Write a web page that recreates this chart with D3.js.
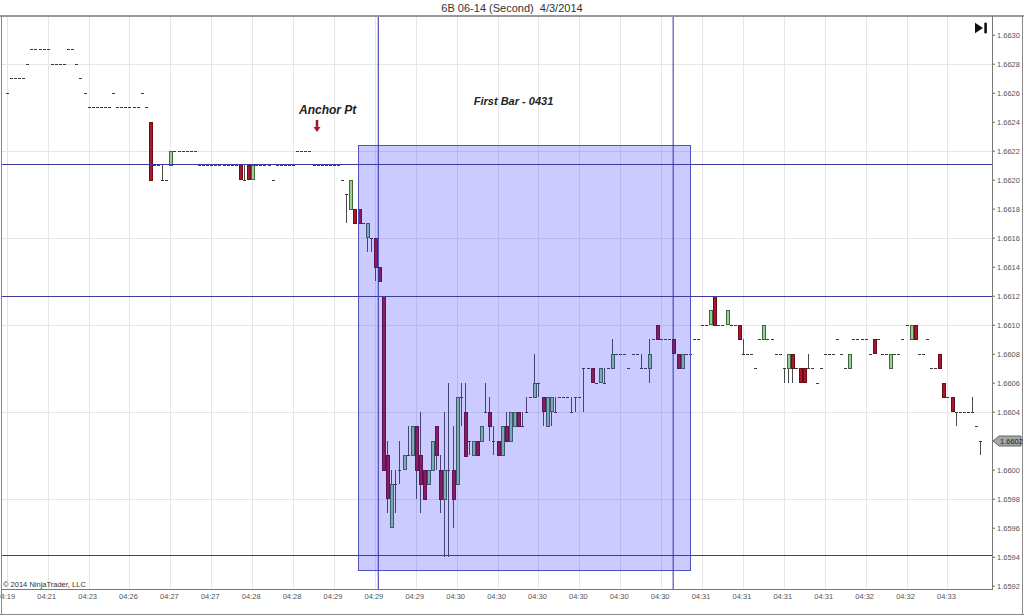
<!DOCTYPE html>
<html><head><meta charset="utf-8">
<script src="https://cdn.jsdelivr.net/npm/d3@7"></script>
<style>body{margin:0;background:#fff}svg{display:block}text{font-family:"Liberation Sans",Arial,sans-serif}</style>
</head><body><svg id="c" width="1024" height="616"></svg>
<script>
// ---- DATA (bars of 1 second, index 0..238) ----
const open = [
1.6626,1.6627,1.6627,1.6627,1.6627,1.6628,1.6629,1.6629,1.6629,1.6629,
1.6629,1.6628,1.6628,1.6628,1.6628,1.6629,1.6629,1.6628,1.6627,1.6626,
1.6625,1.6625,1.6625,1.6625,1.6625,1.6625,1.6626,1.6625,1.6625,1.6625,
1.6625,1.6625,1.6625,1.6626,1.6625,1.6624,1.6621,1.6621,1.6620,1.6620,
1.6621,1.6622,1.6622,1.6622,1.6622,1.6622,1.6622,1.6621,1.6621,1.6621,
1.6621,1.6621,1.6621,1.6621,1.6621,1.6621,1.6621,1.6621,1.6620,1.6621,
1.6620,1.6621,1.6621,1.6621,1.6621,1.6620,1.6621,1.6621,1.6621,1.6621,
1.6621,1.6622,1.6622,1.6622,1.6622,1.6621,1.6621,1.6621,1.6621,1.6621,
1.6621,1.6621,1.6620,1.6619,1.6618,1.6618,1.6618,1.6617,1.6616,1.6616,
1.6616,1.6614,1.6612,1.6601,1.6596,1.6599,1.6600,1.6600,1.6601,1.6601,
1.6603,1.6601,1.6600,1.6599,1.6600,1.6603,1.6600,1.6598,1.6600,1.6600,
1.6599,1.6605,1.6604,1.6602,1.6601,1.6602,1.6602,1.6604,1.6604,1.6602,
1.6602,1.6601,1.6603,1.6602,1.6603,1.6604,1.6603,1.6604,1.6605,1.6605,
1.6606,1.6605,1.6603,1.6604,1.6604,1.6605,1.6605,1.6605,1.6604,1.6605,
1.6605,1.6607,1.6607,1.6607,1.6606,1.6606,1.6606,1.6607,1.6607,1.6608,
1.6608,1.6608,1.6607,1.6608,1.6608,1.6607,1.6607,1.6607,1.6609,1.6610,
1.6609,1.6609,1.6609,1.6609,1.6608,1.6607,1.6608,1.6608,1.6609,1.6609,
1.6610,1.6610,1.6610,1.6612,1.6610,1.6610,1.6610,1.6610,1.6610,1.6610,
1.6608,1.6608,1.6608,1.6607,1.6609,1.6609,1.6609,1.6609,1.6608,1.6608,
1.6607,1.6607,1.6608,1.6607,1.6607,1.6607,1.6607,1.6607,1.6606,1.6607,
1.6608,1.6608,1.6608,1.6609,1.6608,1.6607,1.6607,1.6609,1.6609,1.6609,
1.6609,1.6608,1.6609,1.6609,1.6608,1.6608,1.6607,1.6608,1.6608,1.6609,
1.6610,1.6609,1.6610,1.6608,1.6608,1.6609,1.6607,1.6607,1.6608,1.6606,
1.6605,1.6605,1.6604,1.6604,1.6604,1.6604,1.6604,1.6603,1.6602];
const high = [
1.6626,1.6627,1.6627,1.6627,1.6627,1.6628,1.6629,1.6629,1.6629,1.6629,
1.6629,1.6628,1.6628,1.6628,1.6628,1.6629,1.6629,1.6628,1.6627,1.6626,
1.6625,1.6625,1.6625,1.6625,1.6625,1.6625,1.6626,1.6625,1.6625,1.6625,
1.6625,1.6625,1.6625,1.6626,1.6625,1.6624,1.6621,1.6621,1.6621,1.6620,
1.6622,1.6622,1.6622,1.6622,1.6622,1.6622,1.6622,1.6621,1.6621,1.6621,
1.6621,1.6621,1.6621,1.6621,1.6621,1.6621,1.6621,1.6621,1.6621,1.6621,
1.6621,1.6621,1.6621,1.6621,1.6621,1.6620,1.6621,1.6621,1.6621,1.6621,
1.6621,1.6622,1.6622,1.6622,1.6622,1.6621,1.6621,1.6621,1.6621,1.6621,
1.6621,1.6621,1.6620,1.6619,1.6620,1.6618,1.6618,1.6617,1.6617,1.6616,
1.6616,1.6614,1.6612,1.6602,1.6600,1.6600,1.6602,1.6601,1.6603,1.6603,
1.6603,1.6604,1.6600,1.6600,1.6602,1.6603,1.6601,1.6604,1.6606,1.6603,
1.6605,1.6606,1.6606,1.6602,1.6602,1.6602,1.6603,1.6606,1.6605,1.6603,
1.6602,1.6603,1.6604,1.6604,1.6604,1.6604,1.6604,1.6605,1.6605,1.6608,
1.6606,1.6605,1.6605,1.6605,1.6605,1.6605,1.6605,1.6605,1.6605,1.6605,
1.6605,1.6607,1.6607,1.6607,1.6606,1.6607,1.6607,1.6607,1.6609,1.6608,
1.6608,1.6608,1.6607,1.6608,1.6608,1.6608,1.6607,1.6609,1.6609,1.6610,
1.6609,1.6609,1.6609,1.6609,1.6608,1.6608,1.6608,1.6608,1.6609,1.6609,
1.6610,1.6610,1.6611,1.6612,1.6610,1.6610,1.6611,1.6610,1.6610,1.6610,
1.6609,1.6608,1.6608,1.6607,1.6609,1.6610,1.6609,1.6609,1.6608,1.6608,
1.6607,1.6608,1.6608,1.6607,1.6607,1.6607,1.6608,1.6607,1.6606,1.6607,
1.6608,1.6608,1.6608,1.6609,1.6608,1.6607,1.6608,1.6609,1.6609,1.6609,
1.6609,1.6608,1.6609,1.6609,1.6608,1.6608,1.6608,1.6608,1.6608,1.6609,
1.6610,1.6610,1.6610,1.6608,1.6608,1.6609,1.6607,1.6607,1.6608,1.6606,
1.6605,1.6605,1.6604,1.6604,1.6604,1.6604,1.6605,1.6603,1.6602];
const low = [
1.6626,1.6627,1.6627,1.6627,1.6627,1.6628,1.6629,1.6629,1.6629,1.6629,
1.6629,1.6628,1.6628,1.6628,1.6628,1.6629,1.6629,1.6628,1.6627,1.6626,
1.6625,1.6625,1.6625,1.6625,1.6625,1.6625,1.6626,1.6625,1.6625,1.6625,
1.6625,1.6625,1.6625,1.6626,1.6625,1.6620,1.6621,1.6621,1.6620,1.6620,
1.6621,1.6622,1.6622,1.6622,1.6622,1.6622,1.6622,1.6621,1.6621,1.6621,
1.6621,1.6621,1.6621,1.6621,1.6621,1.6621,1.6621,1.6620,1.6620,1.6620,
1.6620,1.6621,1.6621,1.6621,1.6621,1.6620,1.6621,1.6621,1.6621,1.6621,
1.6621,1.6622,1.6622,1.6622,1.6622,1.6621,1.6621,1.6621,1.6621,1.6621,
1.6621,1.6621,1.6620,1.6617,1.6618,1.6617,1.6617,1.6617,1.6615,1.6615,
1.6613,1.6613,1.6600,1.6597,1.6596,1.6597,1.6599,1.6600,1.6601,1.6601,
1.6598,1.6597,1.6598,1.6599,1.6600,1.6600,1.6597,1.6594,1.6594,1.6596,
1.6599,1.6603,1.6601,1.6601,1.6601,1.6601,1.6602,1.6604,1.6602,1.6601,
1.6601,1.6601,1.6602,1.6602,1.6603,1.6603,1.6603,1.6604,1.6605,1.6605,
1.6605,1.6603,1.6603,1.6603,1.6604,1.6605,1.6605,1.6605,1.6604,1.6604,
1.6605,1.6604,1.6607,1.6606,1.6606,1.6606,1.6606,1.6607,1.6607,1.6608,
1.6608,1.6608,1.6607,1.6608,1.6608,1.6607,1.6607,1.6606,1.6609,1.6609,
1.6609,1.6609,1.6609,1.6608,1.6607,1.6607,1.6608,1.6608,1.6609,1.6609,
1.6610,1.6610,1.6610,1.6610,1.6610,1.6610,1.6610,1.6610,1.6610,1.6609,
1.6608,1.6608,1.6608,1.6607,1.6609,1.6609,1.6609,1.6609,1.6608,1.6608,
1.6606,1.6606,1.6606,1.6607,1.6606,1.6606,1.6607,1.6607,1.6606,1.6607,
1.6608,1.6608,1.6608,1.6609,1.6608,1.6607,1.6607,1.6609,1.6609,1.6609,
1.6609,1.6608,1.6608,1.6609,1.6608,1.6608,1.6607,1.6608,1.6608,1.6609,
1.6610,1.6609,1.6609,1.6608,1.6608,1.6609,1.6607,1.6607,1.6607,1.6605,
1.6605,1.6604,1.6603,1.6604,1.6604,1.6604,1.6604,1.6603,1.6601];
const close = [
1.6626,1.6627,1.6627,1.6627,1.6627,1.6628,1.6629,1.6629,1.6629,1.6629,
1.6629,1.6628,1.6628,1.6628,1.6628,1.6629,1.6629,1.6628,1.6627,1.6626,
1.6625,1.6625,1.6625,1.6625,1.6625,1.6625,1.6626,1.6625,1.6625,1.6625,
1.6625,1.6625,1.6625,1.6626,1.6625,1.6620,1.6621,1.6621,1.6620,1.6620,
1.6622,1.6622,1.6622,1.6622,1.6622,1.6622,1.6622,1.6621,1.6621,1.6621,
1.6621,1.6621,1.6621,1.6621,1.6621,1.6621,1.6621,1.6620,1.6620,1.6620,
1.6621,1.6621,1.6621,1.6621,1.6621,1.6620,1.6621,1.6621,1.6621,1.6621,
1.6621,1.6622,1.6622,1.6622,1.6622,1.6621,1.6621,1.6621,1.6621,1.6621,
1.6621,1.6621,1.6620,1.6619,1.6620,1.6617,1.6617,1.6617,1.6617,1.6616,
1.6614,1.6613,1.6600,1.6598,1.6599,1.6599,1.6600,1.6601,1.6601,1.6603,
1.6600,1.6599,1.6598,1.6600,1.6602,1.6601,1.6598,1.6600,1.6600,1.6598,
1.6605,1.6605,1.6601,1.6602,1.6602,1.6601,1.6603,1.6604,1.6603,1.6602,
1.6601,1.6603,1.6602,1.6604,1.6604,1.6603,1.6603,1.6604,1.6605,1.6606,
1.6606,1.6604,1.6605,1.6605,1.6604,1.6605,1.6605,1.6605,1.6604,1.6605,
1.6605,1.6607,1.6607,1.6606,1.6606,1.6607,1.6606,1.6607,1.6608,1.6608,
1.6608,1.6608,1.6607,1.6608,1.6608,1.6607,1.6607,1.6608,1.6609,1.6609,
1.6609,1.6609,1.6609,1.6608,1.6607,1.6608,1.6608,1.6608,1.6609,1.6609,
1.6610,1.6610,1.6611,1.6610,1.6610,1.6610,1.6611,1.6610,1.6610,1.6609,
1.6608,1.6608,1.6608,1.6607,1.6609,1.6610,1.6609,1.6609,1.6608,1.6608,
1.6607,1.6608,1.6607,1.6607,1.6606,1.6606,1.6607,1.6607,1.6606,1.6607,
1.6608,1.6608,1.6608,1.6609,1.6608,1.6607,1.6608,1.6609,1.6609,1.6609,
1.6609,1.6608,1.6608,1.6609,1.6608,1.6608,1.6608,1.6608,1.6608,1.6609,
1.6610,1.6610,1.6609,1.6608,1.6608,1.6609,1.6607,1.6607,1.6607,1.6605,
1.6605,1.6604,1.6604,1.6604,1.6604,1.6604,1.6604,1.6603,1.6602];
const xTickBars = [0,10,20,30,40,50,60,70,80,90,100,110,120,130,140,150,160,170,180,190,200,210,220,230];
const xTickLabels = ["04:19","04:21","04:23","04:26","04:27","04:27","04:28","04:28","04:29","04:29","04:29","04:30",
  "04:30","04:30","04:30","04:30","04:30","04:31","04:31","04:31","04:31","04:32","04:32","04:33"];
const yTickValues = [1.6592,1.6594,1.6596,1.6598,1.6600,1.6602,1.6604,1.6606,1.6608,1.6610,1.6612,1.6614,
  1.6616,1.6618,1.6620,1.6622,1.6624,1.6626,1.6628,1.6630];
const yGridValues = [1.6598,1.6604,1.6610,1.6616,1.6622,1.6628];
const hLinePrices = [1.66211, 1.6612, 1.65941];
const vLineBars = [90.85, 162.95];
const zoneBars = [85.8, 166.9];
const zonePrices = [1.662238, 1.659306];
const lastPrice = 1.6602;
const title = "6B 06-14 (Second)  4/3/2014";

// ---- CHART ----
const svg = d3.select("#c");
const L = 1, R = 992, T = 16, B = 589;
const x = d3.scaleLinear().domain([-1.42, 240.9]).range([L, R]);
const y = d3.scaleLinear().domain([1.6592, 1.6630]).range([585.7, 34.7]);
const fmt = d3.format(".4f");

svg.append("rect").attr("width",1024).attr("height",616).attr("fill","#fff");
svg.append("text").attr("x",512).attr("y",12).attr("text-anchor","middle").style("white-space","pre")
  .attr("font-size",11).attr("fill","#333").text(title);

// grid
const grid = svg.append("g").attr("shape-rendering","crispEdges").attr("stroke","#e6e6e6");
grid.selectAll("line.v").data(xTickBars).join("line")
  .attr("x1",d=>Math.round(x(d))+0.5).attr("x2",d=>Math.round(x(d))+0.5).attr("y1",T).attr("y2",B);
grid.selectAll("line.h").data(yGridValues).join("line")
  .attr("x1",L).attr("x2",R).attr("y1",d=>Math.round(y(d))+0.5).attr("y2",d=>Math.round(y(d))+0.5);

// candles
const bars = open.map((o,i)=>({i, o, h:high[i], l:low[i], c:close[i]}));
const cg = svg.append("g").attr("shape-rendering","crispEdges");
cg.selectAll("line.wick").data(bars.filter(d=>d.h!==d.l)).join("line")
  .attr("x1",d=>Math.round(x(d.i))+0.5).attr("x2",d=>Math.round(x(d.i))+0.5)
  .attr("y1",d=>y(d.h)).attr("y2",d=>y(d.l)).attr("stroke","#4a4a4a");
cg.selectAll("line.doji").data(bars.filter(d=>d.o===d.c)).join("line")
  .attr("x1",d=>Math.round(x(d.i))-1).attr("x2",d=>Math.round(x(d.i))+2)
  .attr("y1",d=>Math.round(y(d.o))+0.5).attr("y2",d=>Math.round(y(d.o))+0.5).attr("stroke","#3a3a3a");
cg.selectAll("rect.body").data(bars.filter(d=>d.o!==d.c)).join("rect")
  .attr("x",d=>Math.round(x(d.i))-1+0.5).attr("width",3)
  .attr("y",d=>Math.round(y(Math.max(d.o,d.c)))+0.5)
  .attr("height",d=>Math.round(Math.abs(y(d.o)-y(d.c))))
  .attr("fill",d=>d.c>d.o?"#98d098":"#a8172b")
  .attr("stroke",d=>d.c>d.o?"#3e6a3e":"#6a0d18");

// zone rectangle (semi-transparent over candles)
svg.append("rect").attr("shape-rendering","crispEdges")
  .attr("x",Math.round(x(zoneBars[0]))+0.5).attr("y",Math.round(y(zonePrices[0]))+0.5)
  .attr("width",Math.round(x(zoneBars[1])-x(zoneBars[0])))
  .attr("height",Math.round(y(zonePrices[1])-y(zonePrices[0])))
  .attr("fill","#3030ff").attr("fill-opacity",0.25).attr("stroke","#5050c0");

// lines
svg.append("g").attr("shape-rendering","crispEdges").selectAll("line").data(hLinePrices).join("line")
  .attr("x1",L).attr("x2",R).attr("y1",d=>Math.round(y(d))+0.5).attr("y2",d=>Math.round(y(d))+0.5)
  .attr("stroke","#3c3c9c");
svg.append("g").selectAll("line").data(vLineBars).join("line")
  .attr("x1",d=>x(d)).attr("x2",d=>x(d)).attr("y1",T).attr("y2",B)
  .attr("stroke","#3434b0").attr("stroke-width",1.3).attr("stroke-opacity",0.8);

// annotations
svg.append("text").attr("x",x(71.45)).attr("y",y(1.662481)).attr("dy","0.35em")
  .attr("font-size",12).attr("font-weight","bold").attr("font-style","italic").attr("fill","#222").text("Anchor Pt");
const ax = Math.round(x(75.85)), ay0 = y(1.662412), ay1 = y(1.662329);
svg.append("path").attr("d",`M${ax-1.3},${ay0}H${ax+1.3}V${ay1-5}H${ax+3.5}L${ax},${ay1}L${ax-3.5},${ay1-5}H${ax-1.3}Z`)
  .attr("fill","#a8172b");
svg.append("text").attr("x",x(123.9)).attr("y",y(1.662543)).attr("dy","0.35em").attr("text-anchor","middle")
  .attr("font-size",11).attr("font-weight","bold").attr("font-style","italic").attr("fill","#222").text("First Bar - 0431");

// axes
const yAxis = svg.append("g").attr("transform",`translate(${R},0)`)
  .call(d3.axisRight(y).tickValues(yTickValues.filter(v=>fmt(v)!==fmt(lastPrice))).tickSize(3).tickPadding(2).tickFormat(fmt));
yAxis.select(".domain").remove();
yAxis.selectAll("line").attr("stroke","#666");
yAxis.selectAll("text").attr("font-size",7.5).attr("fill","#555").attr("font-family","Liberation Sans, Arial, sans-serif");
const xAxis = svg.append("g").attr("transform",`translate(0,${B})`)
  .call(d3.axisBottom(x).tickValues(xTickBars).tickSize(0).tickPadding(5).tickFormat((d,i)=>xTickLabels[i]));
xAxis.select(".domain").remove();
xAxis.selectAll("text").attr("font-size",7.5).attr("fill","#555").attr("dx",-1.5).attr("font-family","Liberation Sans, Arial, sans-serif");

// frame
const fr = svg.append("g").attr("shape-rendering","crispEdges").attr("fill","none");
fr.append("line").attr("x1",0).attr("x2",1024).attr("y1",16).attr("y2",16).attr("stroke","#999").attr("stroke-width",2);
fr.append("line").attr("x1",L+0.5).attr("x2",L+0.5).attr("y1",16).attr("y2",615).attr("stroke","#888");
fr.append("line").attr("x1",1022.5).attr("x2",1022.5).attr("y1",16).attr("y2",615).attr("stroke","#888");
fr.append("line").attr("x1",0).attr("x2",1024).attr("y1",614.5).attr("y2",614.5).attr("stroke","#888");
fr.append("line").attr("x1",L).attr("x2",R).attr("y1",B+0.5).attr("y2",B+0.5).attr("stroke","#777").attr("stroke-width",1.5);
fr.append("line").attr("x1",R+0.5).attr("x2",R+0.5).attr("y1",T).attr("y2",B+1).attr("stroke","#777");

svg.append("text").attr("x",3).attr("y",587).attr("font-size",7.5).attr("fill","#333").text("© 2014 NinjaTrader, LLC");

// last price marker
const ly = Math.round(y(lastPrice));
svg.append("path").attr("d",`M${R+1},${ly}L${R+7},${ly-5}H1021V${ly+5}H${R+7}Z`)
  .attr("fill","#a6a6a6").attr("stroke","#666");
svg.append("text").attr("x",R+8).attr("y",ly).attr("dy","0.35em").attr("font-size",7.5).attr("fill","#222").text(fmt(lastPrice));

// scroll-to-end icon
svg.append("path").attr("d","M975,22.7L983,28L975,33.3Z").attr("fill","#111");
svg.append("rect").attr("x",984.3).attr("y",22.7).attr("width",2.6).attr("height",10.6).attr("fill","#111");
</script></body></html>
